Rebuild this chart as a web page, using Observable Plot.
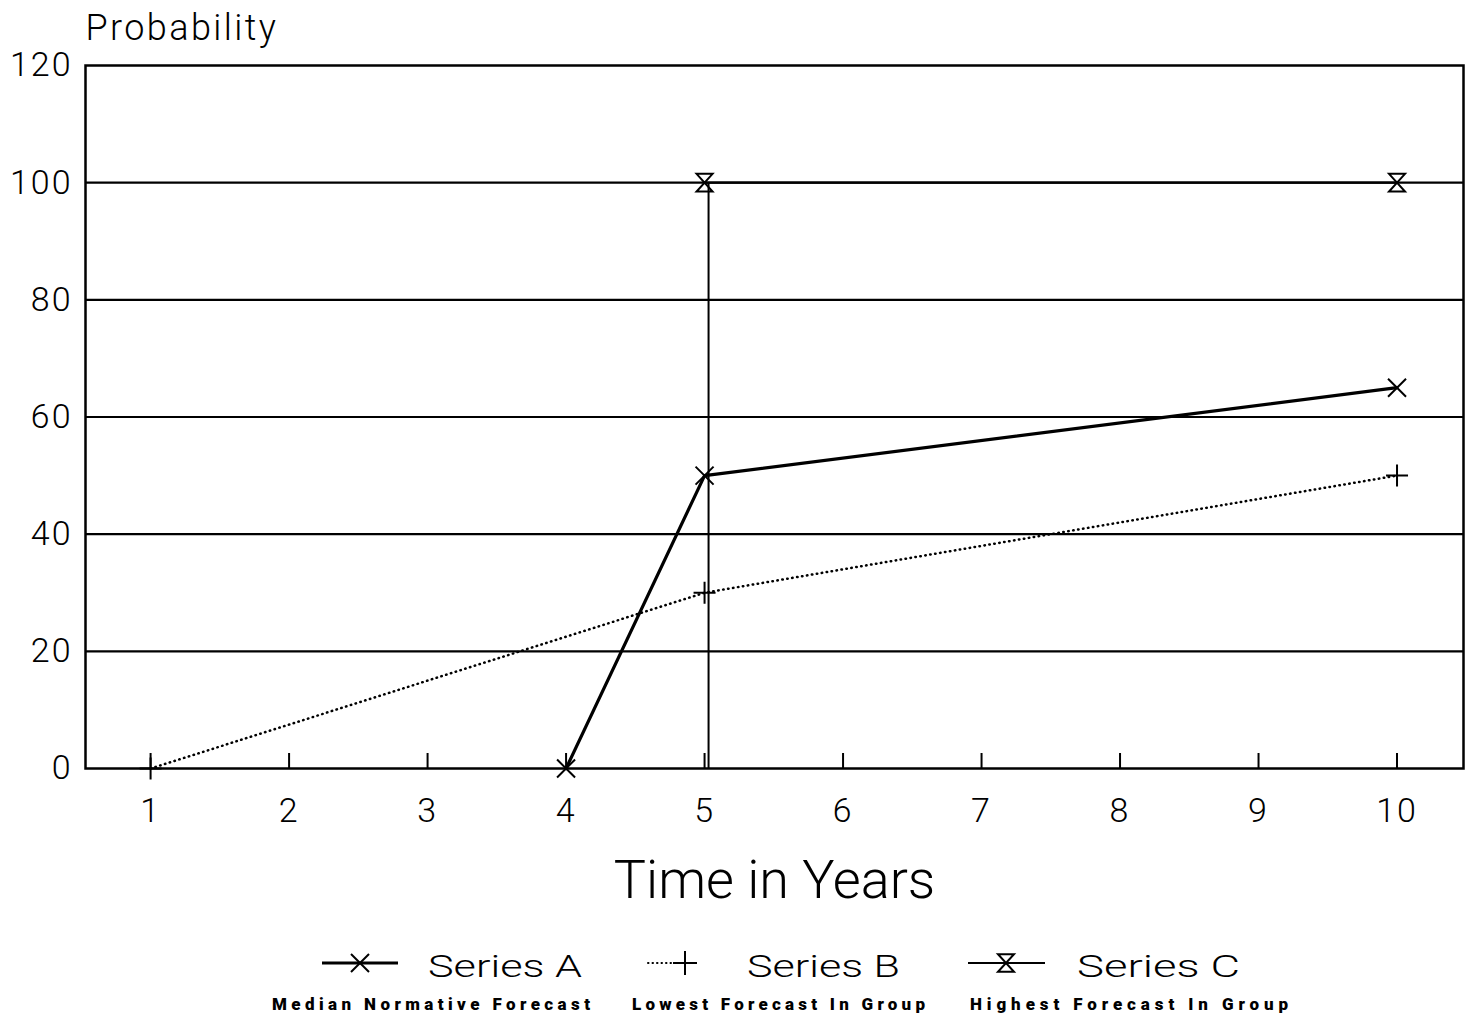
<!DOCTYPE html>
<html>
<head>
<meta charset="utf-8">
<script src="https://cdn.jsdelivr.net/npm/d3@7"></script>
<script src="https://cdn.jsdelivr.net/npm/@observablehq/plot@0.6"></script>
<style>
  html, body { margin: 0; padding: 0; background: #fff; }
  body { width: 1472px; height: 1022px; position: relative; overflow: hidden; font-family: Roboto, "Liberation Sans", sans-serif; }
  #chart { position: absolute; left: 0; top: 0; }
  #legend { position: absolute; left: 0; top: 920px; }
  #chart svg text { font-weight: 300; }
  #chart svg g[aria-label="x-axis tick label"] text,
  #chart svg g[aria-label="y-axis tick label"] text { letter-spacing: 2px; }
  #chart svg g.ylab text { letter-spacing: 2.4px; }
</style>
</head>
<body>
<div id="chart"></div>
<div id="legend"></div>
<script>
// ---- data ----
const years = [1, 2, 3, 4, 5, 6, 7, 8, 9, 10];
const yTicks = [0, 20, 40, 60, 80, 100, 120];
const seriesNames = ["Series A", "Series B", "Series C"];
const seriesNotes = ["Median Normative Forecast", "Lowest Forecast In Group", "Highest Forecast In Group"];
const seriesAYears = [4, 5, 10];
const seriesAValues = [0, 50, 65];
const seriesBYears = [1, 5, 10];
const seriesBValues = [0, 30, 50];
const seriesCYears = [5, 10];
const seriesCValues = [100, 100];
const xLabel = "Time in Years";
const yLabel = "Probability";

const toPts = (xs, ys) => xs.map((x, i) => ({x, y: ys[i]}));
const seriesA = toPts(seriesAYears, seriesAValues);
const seriesB = toPts(seriesBYears, seriesBValues);
const seriesC = toPts(seriesCYears, seriesCValues);

// ---- custom marker symbols ----
const rad = s => Math.sqrt(s / Math.PI);
const symTimes = {draw(c, s) { const r = rad(s); c.moveTo(-r, -r); c.lineTo(r, r); c.moveTo(-r, r); c.lineTo(r, -r); }};
const symPlus = {draw(c, s) { const r = rad(s); c.moveTo(-r, 0); c.lineTo(r, 0); c.moveTo(0, -r); c.lineTo(0, r); }};
const symHour = {draw(c, s) { const r = rad(s); const h = r * 1.1; c.moveTo(-r, -h); c.lineTo(r, -h); c.lineTo(-r, h); c.lineTo(r, h); c.closePath(); }};

const W = 1472, H = 920, ML = 85, MR = 9, MT = 65, MB = 152;
const innerH = H - MT - MB;

const chart = Plot.plot({
  width: W, height: H,
  marginLeft: ML, marginRight: MR, marginTop: MT, marginBottom: MB,
  style: {background: "transparent", color: "black", fontFamily: "Roboto, 'Liberation Sans', sans-serif", overflow: "visible"},
  x: {domain: [0.53, 10.48]},
  y: {domain: [0, 120]},
  marks: [
    Plot.ruleY(yTicks.filter(d => d > 0 && d < 120), {stroke: "black", strokeWidth: 2.2}),
    Plot.frame({stroke: "black", strokeWidth: 2.5}),
    Plot.tickX(years, {x: d => d, insetTop: innerH - 15, stroke: "black", strokeWidth: 2}),
    Plot.axisX(years, {tickSize: 0, tickPadding: 29, fontSize: 34, label: null, tickFormat: d => String(d)}),
    Plot.axisY(yTicks, {tickSize: 0, tickPadding: 13, fontSize: 34, label: null}),
    Plot.text([yLabel], {frameAnchor: "top-left", textAnchor: "start", lineAnchor: "middle", dy: -37, fontSize: 36, fill: "black", className: "ylab"}),
    Plot.text([xLabel], {frameAnchor: "bottom", lineAnchor: "middle", dy: 112, fontSize: 54, fill: "black"}),
    // Series C drop line and line
    Plot.ruleX(seriesC.slice(0, 1), {x: "x", y1: 0, y2: "y", stroke: "black", strokeWidth: 2, dx: 4}),
    Plot.line(seriesC, {x: "x", y: "y", stroke: "black", strokeWidth: 2.2}),
    // Series B dotted
    Plot.line(seriesB, {x: "x", y: "y", stroke: "black", strokeWidth: 2.5, strokeDasharray: "0.5 4.5", strokeLinecap: "round"}),
    // Series A solid thick
    Plot.line(seriesA, {x: "x", y: "y", stroke: "black", strokeWidth: 3.2}),
    Plot.dot(seriesA, {x: "x", y: "y", symbol: symTimes, r: 9, stroke: "black", fill: "none", strokeWidth: 2}),
    Plot.dot(seriesB, {x: "x", y: "y", symbol: symPlus, r: 11, stroke: "black", fill: "none", strokeWidth: 2}),
    Plot.dot(seriesC, {x: "x", y: "y", symbol: symHour, r: 8, stroke: "black", fill: "none", strokeWidth: 2})
  ]
});
document.getElementById("chart").appendChild(chart);

// ---- legend ----
const legend = d3.select("#legend").append("svg")
  .attr("width", W).attr("height", 102)
  .style("font-family", "Roboto, 'Liberation Sans', sans-serif");

const legItems = [
  {icon: [322, 398], mark: 360, dash: null, sw: 3, sym: symTimes, r: 9, text: [428, 154], note: [272, 318]},
  {icon: [648, 682], mark: 685, dash: "0.5 4", sw: 2, sym: symPlus, r: 12, text: [747, 153], note: [632, 293]},
  {icon: [968, 1045], mark: 1006, dash: null, sw: 2, sym: symHour, r: 8, text: [1077, 163], note: [970, 318]}
];
legItems.forEach((it, i) => {
  const g = legend.append("g");
  g.append("line").attr("x1", it.icon[0]).attr("x2", it.icon[1]).attr("y1", 43).attr("y2", 43)
    .attr("stroke", "black").attr("stroke-width", it.sw)
    .attr("stroke-dasharray", it.dash).attr("stroke-linecap", it.dash ? "round" : "butt");
  g.append("path").attr("transform", `translate(${it.mark},43)`)
    .attr("d", d3.symbol(it.sym, it.r * it.r * Math.PI)())
    .attr("fill", "none").attr("stroke", "black").attr("stroke-width", 2);
  g.append("text").attr("x", it.text[0]).attr("y", 45).attr("dy", "0.36em")
    .attr("font-size", 32).attr("font-weight", 300)
    .attr("textLength", it.text[1]).attr("lengthAdjust", "spacingAndGlyphs")
    .text(seriesNames[i]);
  g.append("text").attr("x", it.note[0]).attr("y", 84).attr("dy", "0.36em")
    .attr("font-size", 17).attr("font-weight", 900)
    .attr("textLength", it.note[1]).attr("lengthAdjust", "spacing")
    .text(seriesNotes[i]);
});
</script>
</body>
</html>
